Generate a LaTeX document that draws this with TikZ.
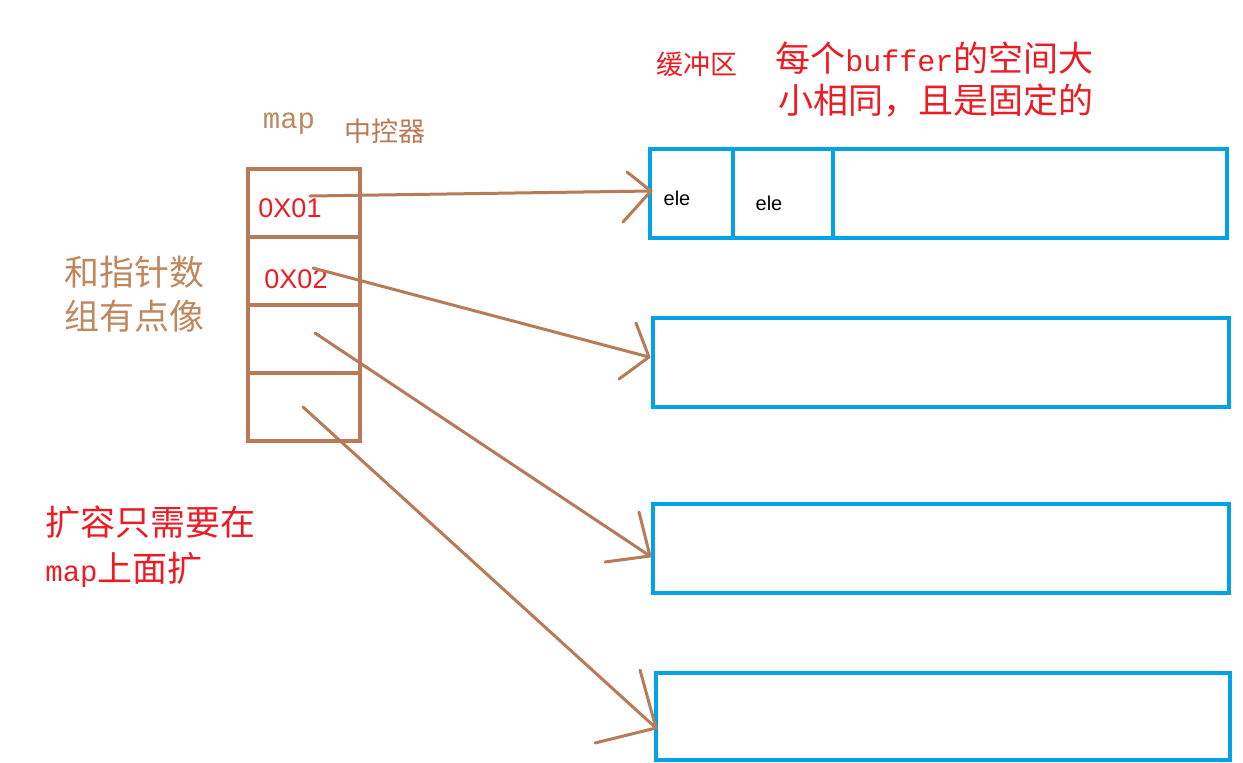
\documentclass[tikz,border=0pt]{standalone}
\usepackage{fontspec}
\newfontfamily\cjk{Noto Sans CJK SC}
\newfontfamily\mono{Liberation Mono}
\newfontfamily\sans{Liberation Sans}
\definecolor{pbrown}{HTML}{B97A57}
\definecolor{tbrown}{HTML}{C0885E}
\definecolor{pred}{HTML}{EC1C24}
\definecolor{pblue}{HTML}{00A2E8}
\begin{document}
\begin{tikzpicture}[x=0.5pt,y=-0.5pt,
  cell/.style={draw=pbrown,line width=2pt,minimum width=56pt,minimum height=34pt,inner sep=0pt},
  buf/.style={draw=pblue,line width=2.2pt,inner sep=0pt},
  conn/.style={draw=pbrown,line width=1.5pt,line cap=round,line join=round},
  big/.style={font=\cjk\fontsize{17.5}{20}\selectfont,inner sep=0pt,anchor=west},
  small/.style={font=\cjk\fontsize{13.5}{16}\selectfont,inner sep=0pt}]
\useasboundingbox (0,0) rectangle (1243,762);
% map cells
\node[cell] (c1) at (304,202.5) {};
\node[cell] (c2) at (304,271) {};
\node[cell] (c3) at (304,339) {};
\node[cell] (c4) at (304,406.5) {};
% buffers
\node[buf,minimum width=288.5pt,minimum height=44.5pt] (b1) at (938.5,193.5) {};
\node[buf,minimum width=288pt,minimum height=44.5pt] (b2) at (941,362.5) {};
\node[buf,minimum width=288pt,minimum height=44.5pt] (b3) at (941,548.5) {};
\node[buf,minimum width=287pt,minimum height=43.5pt] (b4) at (943,716.5) {};
\draw[pblue,line width=2.2pt] (733,148) -- (733,240);
\draw[pblue,line width=2.2pt] (833,148) -- (833,238);
% labels
\node[font=\mono\fontsize{14.5}{16}\selectfont,text=tbrown,inner sep=0pt] (lmap) at (289,124) {map};
\node[small,text=pbrown] (lctl) at (385,131) {中控器};
\node[font=\sans\fontsize{13.5}{16}\selectfont,text=pred,inner sep=0pt] (a1) at (290,208) {0X01};
\node[font=\sans\fontsize{13.5}{16}\selectfont,text=pred,inner sep=0pt] (a2) at (296,279) {0X02};
\node[big,text=tbrown] (n1) at (64,272) {和指针数};
\node[big,text=tbrown] (n2) at (64,316) {组有点像};
\node[big,text=pred] (e1) at (45,522) {扩容只需要在};
\node[big,text=pred] (e2) at (45,570) {{\mono\fontsize{14.5}{16}\selectfont map}上面扩};
\node[small,text=pred] (lbuf) at (697,64) {缓冲区};
\node[big,text=pred] (s1) at (775,58) {每个{\mono\fontsize{15}{16}\selectfont buffer}的空间大};
\node[big,text=pred] (s2) at (778,101) {小相同，且是固定的};
\node[font=\sans\fontsize{10}{12}\selectfont,inner sep=0pt] (el1) at (677,198) {ele};
\node[font=\sans\fontsize{10}{12}\selectfont,inner sep=0pt] (el2) at (769,203) {ele};
% connectors
\coordinate (p1) at (310,196); \coordinate (t1) at (651,191);
\coordinate (p2) at (313,268); \coordinate (t2) at (649,357);
\coordinate (p3) at (315,333); \coordinate (t3) at (650,556);
\coordinate (p4) at (303,407); \coordinate (t4) at (656,728);
\draw[conn] (p1) -- (t1);
\draw[conn] (627,172) -- (t1) -- (623,222);
\draw[conn] (p2) -- (t2);
\draw[conn] (636,323) -- (t2) -- (619,379);
\draw[conn] (p3) -- (t3);
\draw[conn] (639,512) -- (t3) -- (605,562);
\draw[conn] (p4) -- (t4);
\draw[conn] (640,670) -- (t4) -- (595,743);
\end{tikzpicture}
\end{document}
